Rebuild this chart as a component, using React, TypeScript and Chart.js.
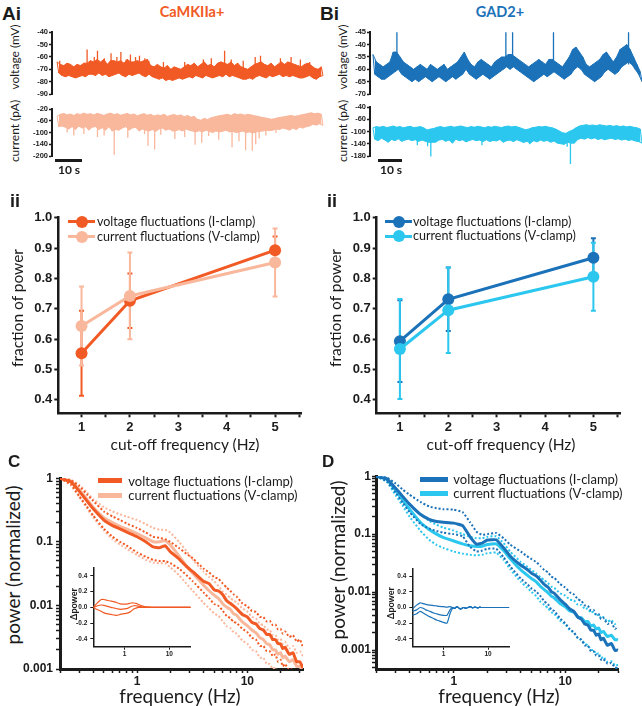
import React, { useEffect, useRef } from "react";
import { Chart, registerables } from "chart.js";

Chart.register(...registerables);

// ---------- colours & fonts ----------
const INK = "#1b1b1b";
const ORANGE = "#F15A24";
const ORANGE_LIGHT = "#F9B79C";
const BLUE = "#1B72B9";
const CYAN = "#2CC7EE";
const TICK_FONT = "'Liberation Sans', Arial, sans-serif";
const TEXT_FONT = "Lato, 'Open Sans', sans-serif";

// ---------- panel A/B i : example traces (band envelopes, 80 samples over 100 s, plus spikes) ----------
const TRACE_SECONDS = 100;
const A_VOLT_UPPER = [
  -64, -66, -67, -65, -66, -68, -66, -67, -65, -65,
  -63, -64, -62, -64, -62, -66, -63, -63, -64, -63,
  -65, -62, -64, -64, -63, -64, -63, -62, -67, -68,
  -66, -68, -69, -67, -70, -68, -69, -70, -68, -66,
  -67, -65, -68, -66, -64, -67, -66, -68, -65, -64,
  -65, -66, -64, -67, -65, -68, -69, -70, -68, -66,
  -65, -64, -66, -67, -65, -68, -66, -64, -66, -64,
  -65, -66, -67, -68, -66, -65, -67, -69, -70, -68,
];
const A_VOLT_LOWER = [
  -73, -75, -76, -75, -76, -77, -76, -75, -76, -74,
  -74, -75, -73, -75, -74, -76, -75, -74, -73, -75,
  -76, -74, -75, -74, -73, -75, -76, -74, -76, -77,
  -78, -77, -79, -78, -79, -78, -77, -78, -77, -76,
  -77, -75, -76, -77, -75, -76, -77, -76, -75, -76,
  -74, -76, -75, -76, -77, -78, -78, -77, -78, -76,
  -75, -76, -77, -75, -76, -75, -74, -76, -75, -76,
  -75, -76, -77, -77, -76, -75, -77, -78, -76, -75,
];
const A_VOLT_SPIKE_T = [1, 11.3, 14, 15.2, 17.8, 20.3, 22.5, 24, 26, 27.6, 29.5, 31, 33, 34.5, 40, 48, 55, 58, 63, 65.5, 70, 74.5, 76.5, 84, 88, 91.5, 95];
const A_VOLT_SPIKE_V = [-63, -54, -60, -55, -61, -57, -60, -56, -62, -58, -60, -59, -61, -63, -64, -64, -62, -61, -55, -62, -63, -60, -59, -61, -60, -62, -64];
const A_VOLT_SPIKE_BASE = -70;

const A_CURR_UPPER = [
  -45, -38, -35, -40, -37, -42, -36, -39, -34, -38,
  -36, -40, -35, -38, -42, -37, -34, -39, -36, -41,
  -38, -35, -40, -37, -43, -39, -36, -41, -38, -44,
  -40, -42, -38, -45, -41, -39, -43, -40, -46, -42,
  -48, -45, -55, -58, -52, -56, -50, -47, -44, -42,
  -40, -38, -42, -36, -39, -37, -41, -38, -40, -43,
  -45, -48, -50, -52, -55, -53, -50, -48, -46, -44,
  -42, -45, -43, -40, -38, -35, -33, -36, -34, -38,
];
const A_CURR_LOWER = [
  -80, -78, -82, -88, -80, -90, -78, -85, -80, -92,
  -82, -80, -90, -84, -92, -80, -95, -90, -92, -85,
  -80, -92, -85, -82, -95, -88, -92, -95, -90, -96,
  -88, -85, -92, -88, -95, -94, -90, -95, -88, -92,
  -95, -98, -94, -98, -92, -96, -100, -95, -98, -96,
  -92, -98, -96, -100, -98, -95, -100, -98, -102, -98,
  -96, -95, -92, -94, -92, -88, -90, -85, -88, -92,
  -85, -90, -82, -85, -80, -78, -72, -75, -70, -76,
];
const A_CURR_SPIKE_T = [3.8, 6.3, 10.1, 15.2, 17.7, 21.5, 26.6, 32.9, 34.2, 36.7, 39, 44.3, 48, 51.9, 54.4, 57, 60.8, 65.8, 68.4, 70.9, 73.4, 74.7, 76, 78.5, 82.3];
const A_CURR_SPIKE_V = [-100, -110, -105, -115, -110, -176, -118, -105, -145, -158, -108, -122, -115, -142, -135, -112, -125, -150, -130, -160, -162, -140, -120, -110, -102];
const A_CURR_SPIKE_BASE = -70;

const B_VOLT_UPPER = [
  -54, -57, -58, -59, -58, -57, -53, -53, -55, -57,
  -58, -59, -60, -59, -58, -59, -60, -58, -59, -60,
  -59, -58, -60, -59, -58, -57, -55, -53, -56, -58,
  -59, -57, -56, -57, -58, -59, -57, -56, -55, -55,
  -54, -54, -55, -56, -57, -58, -59, -58, -57, -56,
  -57, -58, -56, -56, -57, -58, -59, -57, -55, -52,
  -51, -53, -55, -58, -59, -58, -57, -56, -54, -53,
  -55, -57, -55, -52, -51, -50, -52, -55, -58, -61,
];
const B_VOLT_LOWER = [
  -62, -63, -64, -64, -63, -62, -61, -60, -62, -63,
  -64, -65, -64, -65, -64, -63, -64, -65, -64, -63,
  -64, -65, -64, -63, -64, -63, -62, -60, -62, -63,
  -64, -63, -62, -63, -64, -63, -62, -61, -60, -59,
  -60, -59, -60, -61, -62, -63, -64, -65, -64, -63,
  -62, -63, -62, -61, -62, -63, -64, -63, -62, -60,
  -59, -60, -62, -63, -64, -65, -64, -63, -61, -60,
  -61, -62, -61, -59, -58, -57, -58, -60, -62, -65,
];
const B_VOLT_SPIKE_T = [8.9, 49.4, 51.9, 67.1, 95];
const B_VOLT_SPIKE_V = [-45, -45, -45, -45, -45];
const B_VOLT_SPIKE_BASE = -58;

const B_CURR_UPPER = [
  -88, -84, -86, -83, -87, -85, -82, -86, -84, -88,
  -85, -83, -87, -86, -84, -88, -95, -92, -90, -86,
  -84, -87, -85, -83, -86, -84, -82, -85, -87, -84,
  -86, -83, -85, -88, -84, -86, -83, -85, -87, -84,
  -82, -85, -83, -86, -90, -94, -92, -88, -86, -84,
  -85, -83, -86, -88, -92, -98, -104, -106, -100, -95,
  -88, -82, -80, -78, -80, -79, -81, -78, -80, -82,
  -80, -83, -81, -84, -82, -85, -83, -86, -88, -92,
];
const B_CURR_LOWER = [
  -125, -130, -122, -128, -135, -126, -130, -124, -132, -128,
  -125, -130, -127, -132, -128, -132, -135, -135, -135, -128,
  -126, -132, -128, -138, -125, -130, -127, -134, -129, -126,
  -130, -128, -133, -127, -133, -129, -131, -126, -135, -130,
  -128, -133, -127, -131, -136, -132, -138, -130, -134, -128,
  -132, -129, -135, -131, -138, -140, -142, -135, -138, -138,
  -126, -122, -125, -120, -124, -121, -126, -123, -127, -124,
  -122, -126, -124, -128, -125, -129, -127, -131, -133, -138,
];
const B_CURR_SPIKE_T = [16.5, 20.3, 21.5, 40.5, 58.2, 72.2, 73.4];
const B_CURR_SPIKE_V = [-145, -148, -182, -145, -142, -150, -210];
const B_CURR_SPIKE_BASE = -110;

// trace axes tick values & printed labels
const A_VOLT_TICKS = [-40, -50, -60, -70, -80, -90];
const A_VOLT_LABELS = ["-40", "-50", "-60", "-70", "-80", "-90"];
const A_CURR_TICKS = [-20, -60, -100, -140, -180];
const A_CURR_LABELS = ["-20", "-60", "-100", "-140", "-200"];
const B_VOLT_TICKS = [-45, -50, -55, -60, -65, -70];
const B_VOLT_LABELS = ["-45", "-40", "-55", "-60", "-65", "-70"];
const B_CURR_TICKS = [-20, -60, -100, -140, -180];
const B_CURR_LABELS = ["-40", "-60", "-100", "-140", "-180"];

// ---------- panel ii : fraction of power ----------
const CUTOFF_HZ = [1, 2, 5];
const A_VOLT_FRAC = [0.553, 0.726, 0.893];
const A_VOLT_ERR = [0.14, 0.09, 0.045];
const A_CURR_FRAC = [0.643, 0.742, 0.852];
const A_CURR_ERR = [0.13, 0.143, 0.112];
const B_VOLT_FRAC = [0.593, 0.731, 0.868];
const B_VOLT_ERR = [0.135, 0.105, 0.064];
const B_CURR_FRAC = [0.567, 0.695, 0.805];
const B_CURR_ERR = [0.165, 0.141, 0.112];
const II_X_TICKS = [1, 1.5, 2, 2.5, 3, 3.5, 4, 4.5, 5, 5.5];
const II_X_LABELS = ["1", "", "2", "", "3", "", "4", "", "5", ""];
const II_Y_TICKS = [0.4, 0.5, 0.6, 0.7, 0.8, 0.9, 1.0];
const II_Y_LABELS = ["0.4", "0.5", "0.6", "0.7", "0.8", "0.9", "1.0"];

// ---------- panels C / D : normalized power spectra ----------
const FREQ_HZ = [
  0.2, 0.25, 0.3, 0.35, 0.4, 0.5, 0.6, 0.7, 0.8, 1.0, 1.2, 1.4, 1.6, 1.8, 2.0, 2.4, 2.8, 3.2,
  4, 4.5, 5, 5.5, 6, 6.5, 7, 7.5, 8, 9, 10, 11, 12, 13, 14, 15, 16, 17, 18, 19, 20, 21, 22, 24, 26, 28, 30, 32,
];
const C_VOLT_MEAN = [
  1, 0.88, 0.62, 0.44, 0.33, 0.22, 0.18, 0.16, 0.143, 0.12, 0.1, 0.083, 0.081, 0.087, 0.07, 0.054, 0.041, 0.034,
  0.024, 0.022, 0.0176, 0.0168, 0.0147, 0.0118, 0.0108, 0.0098, 0.0089, 0.0072, 0.0066, 0.0054, 0.0051, 0.0043,
  0.0041, 0.0035, 0.0035, 0.0029, 0.0029, 0.0025, 0.0025, 0.0021, 0.0022, 0.0017, 0.0018, 0.0013, 0.0013, 0.00104,
];
const C_VOLT_UP = [
  1, 0.93, 0.75, 0.56, 0.44, 0.3, 0.25, 0.22, 0.195, 0.165, 0.14, 0.12, 0.115, 0.11, 0.1, 0.08, 0.065, 0.055,
  0.038, 0.033, 0.028, 0.026, 0.022, 0.019, 0.017, 0.015, 0.0138, 0.0108, 0.0097, 0.0082, 0.0079, 0.0066,
  0.0065, 0.0056, 0.0057, 0.0049, 0.005, 0.0042, 0.0043, 0.0036, 0.0039, 0.0032, 0.0034, 0.0027, 0.0029, 0.0022,
];
const C_VOLT_LOW = [
  1, 0.8, 0.52, 0.36, 0.26, 0.16, 0.12, 0.1, 0.088, 0.068, 0.058, 0.052, 0.05, 0.05, 0.046, 0.038, 0.03, 0.024,
  0.016, 0.013, 0.0105, 0.0098, 0.0082, 0.0068, 0.0063, 0.0055, 0.0053, 0.0043, 0.0038, 0.0031, 0.0029, 0.0023,
  0.0023, 0.0019, 0.0019, 0.0016, 0.0017, 0.0013, 0.0014, 0.0011, 0.0012, 0.00095, 0.001, 0.0008, 0.00082, 0.0007,
];
const C_CURR_MEAN = [
  1, 0.9, 0.66, 0.47, 0.35, 0.24, 0.2, 0.175, 0.16, 0.135, 0.115, 0.1, 0.1, 0.105, 0.09, 0.06, 0.042, 0.032,
  0.021, 0.017, 0.0145, 0.0128, 0.0105, 0.0094, 0.0087, 0.0074, 0.007, 0.0055, 0.0048, 0.0041, 0.0037, 0.0031,
  0.0029, 0.0025, 0.0024, 0.002, 0.002, 0.0017, 0.0018, 0.0015, 0.0016, 0.0013, 0.0014, 0.0011, 0.0011, 0.0009,
];
const C_CURR_UP = [
  1, 0.95, 0.78, 0.6, 0.47, 0.35, 0.3, 0.27, 0.25, 0.22, 0.19, 0.165, 0.155, 0.155, 0.14, 0.1, 0.072, 0.052,
  0.034, 0.028, 0.024, 0.02, 0.0165, 0.0148, 0.0132, 0.0118, 0.0112, 0.009, 0.008, 0.0066, 0.0062, 0.0051,
  0.0049, 0.0042, 0.0041, 0.0034, 0.0034, 0.0029, 0.003, 0.0025, 0.0027, 0.0021, 0.0023, 0.0018, 0.0019, 0.0016,
];
const C_CURR_LOW = [
  1, 0.78, 0.5, 0.34, 0.24, 0.15, 0.11, 0.09, 0.078, 0.062, 0.052, 0.047, 0.046, 0.046, 0.04, 0.03, 0.022, 0.017,
  0.011, 0.009, 0.0075, 0.0068, 0.0056, 0.0047, 0.0044, 0.0038, 0.0036, 0.0028, 0.0025, 0.002, 0.0019, 0.0015,
  0.0015, 0.0012, 0.0012, 0.001, 0.00105, 0.00088, 0.0009, 0.00075, 0.0008, 0.00066, 0.0007, 0.00058, 0.0006, 0.0005,
];
const D_VOLT_MEAN = [
  1, 0.9, 0.62, 0.44, 0.33, 0.22, 0.18, 0.165, 0.16, 0.155, 0.14, 0.09, 0.067, 0.07, 0.079, 0.08, 0.058, 0.042,
  0.029, 0.025, 0.021, 0.019, 0.016, 0.0135, 0.0122, 0.0102, 0.0095, 0.0074, 0.0062, 0.0051, 0.0046, 0.0037,
  0.0034, 0.0028, 0.0027, 0.0022, 0.0022, 0.0018, 0.0019, 0.0015, 0.0016, 0.0012, 0.0013, 0.00098, 0.001, 0.0008,
];
const D_VOLT_UP = [
  1, 0.95, 0.75, 0.58, 0.48, 0.36, 0.3, 0.28, 0.27, 0.265, 0.24, 0.16, 0.11, 0.097, 0.1, 0.105, 0.085, 0.066,
  0.05, 0.042, 0.037, 0.033, 0.028, 0.024, 0.022, 0.0185, 0.0175, 0.0138, 0.012, 0.0099, 0.0091, 0.0075,
  0.007, 0.0059, 0.0058, 0.0048, 0.0049, 0.0041, 0.0042, 0.0034, 0.0036, 0.0028, 0.003, 0.0023, 0.0025, 0.002,
];
const D_VOLT_LOW = [
  1, 0.82, 0.52, 0.34, 0.24, 0.15, 0.125, 0.113, 0.106, 0.1, 0.092, 0.06, 0.05, 0.052, 0.056, 0.056, 0.04, 0.028,
  0.017, 0.014, 0.0115, 0.0102, 0.0085, 0.0069, 0.0062, 0.005, 0.0047, 0.0035, 0.0029, 0.0023, 0.002, 0.0016,
  0.0015, 0.0012, 0.0012, 0.00095, 0.00095, 0.0008, 0.0008, 0.00068, 0.0007, 0.00058, 0.0006, 0.0005, 0.00048, 0.00042,
];
const D_CURR_MEAN = [
  1, 0.88, 0.57, 0.38, 0.27, 0.16, 0.12, 0.1, 0.088, 0.076, 0.068, 0.063, 0.061, 0.062, 0.066, 0.068, 0.052, 0.038,
  0.024, 0.02, 0.017, 0.015, 0.0125, 0.011, 0.0098, 0.0085, 0.0079, 0.0063, 0.0056, 0.0047, 0.0045, 0.0037,
  0.0036, 0.0031, 0.0031, 0.0026, 0.0027, 0.0023, 0.0024, 0.002, 0.0021, 0.0017, 0.0018, 0.0015, 0.0015, 0.0013,
];
const D_CURR_UP = [
  1, 0.92, 0.62, 0.44, 0.33, 0.22, 0.17, 0.145, 0.13, 0.115, 0.1, 0.09, 0.085, 0.085, 0.09, 0.092, 0.07, 0.05,
  0.033, 0.028, 0.024, 0.021, 0.018, 0.016, 0.0143, 0.0125, 0.0118, 0.0095, 0.0087, 0.0074, 0.0072, 0.006,
  0.006, 0.0051, 0.0052, 0.0044, 0.0046, 0.0039, 0.0041, 0.0035, 0.0037, 0.0031, 0.0033, 0.0028, 0.003, 0.0028,
];
const D_CURR_LOW = [
  1, 0.8, 0.47, 0.3, 0.2, 0.115, 0.08, 0.065, 0.058, 0.05, 0.046, 0.044, 0.043, 0.044, 0.047, 0.048, 0.036, 0.025,
  0.015, 0.0122, 0.01, 0.0085, 0.0068, 0.006, 0.0053, 0.0045, 0.0042, 0.0032, 0.0028, 0.0022, 0.002, 0.0016,
  0.0015, 0.0013, 0.0012, 0.001, 0.001, 0.00085, 0.00088, 0.00072, 0.00076, 0.00062, 0.00064, 0.00054, 0.00055, 0.0005,
];
// insets: difference in power (same frequencies)
const C_DIFF_UP = [
  0, 0.06, 0.1, 0.1, 0.09, 0.08, 0.07, 0.055, 0.045, 0.04, 0.045, 0.055, 0.055, 0.05, 0.04, 0.02, 0.01, 0.005,
  0, 0, 0, 0, 0, 0, 0, 0, 0, 0, 0, 0, 0, 0, 0, 0, 0, 0, 0, 0, 0, 0, 0, 0, 0, 0, 0, 0,
];
const C_DIFF_MEAN = [
  0, 0.02, 0.03, 0.025, 0.015, 0, -0.01, -0.02, -0.025, -0.02, -0.01, 0.01, 0.02, 0.02, 0.015, 0.005, 0, 0,
  0, 0, 0, 0, 0, 0, 0, 0, 0, 0, 0, 0, 0, 0, 0, 0, 0, 0, 0, 0, 0, 0, 0, 0, 0, 0, 0, 0,
];
const C_DIFF_LOW = [
  0, -0.03, -0.05, -0.07, -0.08, -0.09, -0.1, -0.1, -0.09, -0.08, -0.07, -0.05, -0.02, -0.01, 0, 0, 0, 0,
  0, 0, 0, 0, 0, 0, 0, 0, 0, 0, 0, 0, 0, 0, 0, 0, 0, 0, 0, 0, 0, 0, 0, 0, 0, 0, 0, 0,
];
const D_DIFF_UP = [
  -0.02, 0.03, 0.06, 0.05, 0.04, 0.03, 0.025, 0.02, 0.015, 0.01, 0.005, 0.01, 0, -0.01, 0.01, -0.02, 0, -0.01,
  0.01, -0.005, 0.005, 0, -0.005, 0.005, 0, 0, 0, 0, 0, 0, 0, 0, 0, 0, 0, 0, 0, 0, 0, 0, 0, 0, 0, 0, 0, 0,
];
const D_DIFF_MEAN = [
  -0.05, -0.03, 0, -0.01, -0.03, -0.05, -0.07, -0.08, -0.09, -0.1, -0.1, -0.03, 0, -0.01, 0.01, -0.02, 0, -0.01,
  0.01, -0.005, 0.005, 0, -0.005, 0.005, 0, 0, 0, 0, 0, 0, 0, 0, 0, 0, 0, 0, 0, 0, 0, 0, 0, 0, 0, 0, 0, 0,
];
const D_DIFF_LOW = [
  -0.1, -0.08, -0.05, -0.07, -0.09, -0.12, -0.14, -0.16, -0.17, -0.19, -0.2, -0.08, -0.01, -0.01, 0.01, -0.02, 0, -0.01,
  0.01, -0.005, 0.005, 0, -0.005, 0.005, 0, 0, 0, 0, 0, 0, 0, 0, 0, 0, 0, 0, 0, 0, 0, 0, 0, 0, 0, 0, 0, 0,
];
const LOG_X_MAJOR = [1, 10];
const LOG_X_MAJOR_LABELS = ["1", "10"];
const LOG_X_MINOR = [0.2, 0.3, 0.4, 0.5, 0.6, 0.7, 0.8, 0.9, 2, 3, 4, 5, 6, 7, 8, 9, 20, 30];
const LOG_Y_MAJOR = [0.001, 0.01, 0.1, 1];
const LOG_Y_MAJOR_LABELS = ["0.001", "0.01", "0.1", "1"];
const LOG_Y_MINOR = [0.0005, 0.0006, 0.0007, 0.0008, 0.0009, 0.002, 0.003, 0.004, 0.005, 0.006, 0.007, 0.008, 0.009, 0.02, 0.03, 0.04, 0.05, 0.06, 0.07, 0.08, 0.09, 0.2, 0.3, 0.4, 0.5, 0.6, 0.7, 0.8, 0.9];
const DIFF_TICKS = [-0.4, -0.2, 0, 0.2, 0.4];
const DIFF_LABELS = ["-0.4", "-0.2", "0.0", "0.2", "0.4"];

const LEGEND_V = "voltage fluctuations (I-clamp)";
const LEGEND_C = "current fluctuations (V-clamp)";

// ---------- helpers ----------
function axisBase(fs: number, bw: number, tl: number, tw: number, pad: number) {
  return {
    border: { display: true, color: INK, width: bw },
    grid: { display: true, drawOnChartArea: false, drawTicks: true, tickLength: tl, tickWidth: tw, color: INK, tickColor: INK },
    ticks: { color: INK, font: { family: TICK_FONT, size: fs, weight: "bold" }, padding: pad, autoSkip: false, maxRotation: 0, minRotation: 0 },
  };
}

function fixedTicks(values: number[], labels: string[]) {
  return {
    afterBuildTicks: (s: any) => {
      s.ticks = values.filter((v) => v >= s.min - 1e-9 && v <= s.max + 1e-9).map((v) => ({ value: v }));
    },
    callback: (v: number) => {
      const k = values.findIndex((t) => Math.abs(t - v) < 1e-12);
      return k >= 0 ? labels[k] : "";
    },
  };
}

function logTicks(major: number[], majorLabels: string[], minor: number[]) {
  const all = [...major, ...minor].sort((a, b) => a - b);
  const labels = all.map((v) => {
    const k = major.indexOf(v);
    return k >= 0 ? majorLabels[k] : "";
  });
  return fixedTicks(all, labels);
}

function makeAxis(base: any, t: any, extra: any) {
  return {
    ...extra,
    border: base.border,
    grid: base.grid,
    afterBuildTicks: t.afterBuildTicks,
    ticks: { ...base.ticks, callback: t.callback },
  };
}

function traceConfig(
  upper: number[], lower: number[], spikeT: number[], spikeV: number[], spikeBase: number,
  color: string, yMin: number, yMax: number, ticks: number[], labels: string[], pad: any, xMin: number,
) {
  const step = TRACE_SECONDS / (upper.length - 0.5);
  const up = upper.map((u, i) => ({ x: i * step, y: u }));
  const low = lower.map((l, i) => ({ x: i * step + step / 2, y: l }));
  const zig: { x: number; y: number }[] = [];
  upper.forEach((u, i) => {
    zig.push(up[i]);
    zig.push(low[i]);
  });
  const spikes: { x: number; y: number | null }[] = [];
  spikeT.forEach((t, i) => {
    spikes.push({ x: t, y: spikeBase });
    spikes.push({ x: t, y: spikeV[i] });
    spikes.push({ x: t, y: null });
  });
  const t = fixedTicks(ticks, labels);
  const lineDs = (data: any[], fill: any, width: number) => ({
    data,
    borderColor: color,
    backgroundColor: color,
    borderWidth: width,
    pointRadius: 0,
    tension: 0,
    clip: false,
    fill,
    spanGaps: false,
  });
  return {
    type: "line",
    data: { datasets: [lineDs(up, false, 1), lineDs(low, "-1", 1), lineDs(zig, false, 1), lineDs(spikes, false, 1.3)] },
    options: {
      animation: false,
      responsive: false,
      maintainAspectRatio: false,
      layout: { padding: pad },
      plugins: { legend: { display: false }, tooltip: { enabled: false } },
      scales: {
        x: { type: "linear", display: false, min: xMin, max: TRACE_SECONDS },
        y: makeAxis(axisBase(7.5, 2, 3, 1.5, 1), t, {
          type: "linear",
          min: yMin,
          max: yMax,
          afterFit: (s: any) => { s.width = 52; },
        }),
      },
    },
  };
}

const errorBarPlugin = {
  id: "errorBars",
  beforeDatasetsDraw(chart: any) {
    const ctx = chart.ctx;
    const xs = chart.scales.x;
    const ys = chart.scales.y;
    const metas = chart.getSortedVisibleDatasetMetas().slice().reverse();
    metas.forEach((meta: any) => {
      const ds = chart.data.datasets[meta.index];
      if (!ds.errors) return;
      ctx.save();
      ctx.strokeStyle = ds.borderColor;
      ctx.lineWidth = 2;
      ds.data.forEach((p: any, i: number) => {
        const x = xs.getPixelForValue(p.x);
        const y1 = ys.getPixelForValue(p.y + ds.errors[i]);
        const y2 = ys.getPixelForValue(p.y - ds.errors[i]);
        ctx.beginPath();
        ctx.moveTo(x, y1);
        ctx.lineTo(x, y2);
        ctx.moveTo(x - 2.5, y1);
        ctx.lineTo(x + 2.5, y1);
        ctx.moveTo(x - 2.5, y2);
        ctx.lineTo(x + 2.5, y2);
        ctx.stroke();
      });
      ctx.restore();
    });
  },
};

function fracConfig(vFrac: number[], vErr: number[], cFrac: number[], cErr: number[], dark: string, light: string, yW: number, padRight: number) {
  const tx = fixedTicks(II_X_TICKS, II_X_LABELS);
  const ty = fixedTicks(II_Y_TICKS, II_Y_LABELS);
  const ds = (vals: number[], errs: number[], color: string, order: number) => ({
    data: CUTOFF_HZ.map((x, i) => ({ x, y: vals[i] })),
    errors: errs,
    borderColor: color,
    backgroundColor: color,
    borderWidth: 3,
    pointRadius: 6,
    pointBorderWidth: 0,
    pointBackgroundColor: color,
    tension: 0,
    order,
  });
  return {
    type: "line",
    data: { datasets: [ds(vFrac, vErr, dark, 2), ds(cFrac, cErr, light, 1)] },
    options: {
      animation: false,
      responsive: false,
      maintainAspectRatio: false,
      layout: { padding: { left: 0, top: 17.7, right: padRight, bottom: 0 } },
      plugins: { legend: { display: false }, tooltip: { enabled: false } },
      scales: {
        x: makeAxis(axisBase(13, 2.5, 4, 2, 2), tx, { type: "linear", min: 0.52, max: 5.55, afterFit: (s: any) => { s.height = 26.7; } }),
        y: makeAxis(axisBase(13, 2.5, 4, 2, 2), ty, { type: "linear", min: 0.355, max: 1.0, afterFit: (s: any) => { s.width = yW; } }),
      },
    },
    plugins: [errorBarPlugin],
  };
}

function spectrumConfig(series: { data: number[]; color: string; dashed: boolean; order: number }[], yMin: number, xMax: number, yW: number, pad: any, yPad: number) {
  const tx = logTicks(LOG_X_MAJOR, LOG_X_MAJOR_LABELS, LOG_X_MINOR);
  const ty = logTicks(LOG_Y_MAJOR, LOG_Y_MAJOR_LABELS, LOG_Y_MINOR);
  return {
    type: "line",
    data: {
      datasets: series.map((s) => ({
        data: FREQ_HZ.map((f, i) => ({ x: f, y: s.data[i] })),
        borderColor: s.color,
        borderWidth: s.dashed ? 2 : 3,
        borderDash: s.dashed ? [2, 2] : [],
        pointRadius: 0,
        tension: 0.1,
        order: s.order,
      })),
    },
    options: {
      animation: false,
      responsive: false,
      maintainAspectRatio: false,
      layout: { padding: pad },
      plugins: { legend: { display: false }, tooltip: { enabled: false } },
      scales: {
        x: makeAxis(axisBase(12, 3, 4, 1.5, 1), tx, { type: "logarithmic", min: 0.2, max: xMax, afterFit: (s: any) => { s.height = 37; } }),
        y: makeAxis(axisBase(12, 3, 4, 1.5, yPad), ty, { type: "logarithmic", min: yMin, max: 1, afterFit: (s: any) => { s.width = yW; } }),
      },
    },
  };
}

function insetConfig(up: number[], mean: number[], low: number[], color: string, yW: number, padRight: number, padTop: number) {
  const tx = fixedTicks(LOG_X_MAJOR, LOG_X_MAJOR_LABELS);
  const ty = fixedTicks(DIFF_TICKS, DIFF_LABELS);
  const line = (d: number[]) => ({
    data: FREQ_HZ.map((f, i) => ({ x: f, y: d[i] })),
    borderColor: color,
    borderWidth: 1.2,
    pointRadius: 0,
    tension: 0.2,
  });
  return {
    type: "line",
    data: { datasets: [line(up), line(mean), line(low)] },
    options: {
      animation: false,
      responsive: false,
      maintainAspectRatio: false,
      layout: { padding: { left: 0, top: padTop, right: padRight, bottom: 0 } },
      plugins: { legend: { display: false }, tooltip: { enabled: false } },
      scales: {
        x: makeAxis(axisBase(6.5, 1.5, 3, 1, 1), tx, { type: "logarithmic", min: 0.2, max: 30, afterFit: (s: any) => { s.height = 13.3; } }),
        y: makeAxis(axisBase(6.5, 1.5, 3, 1, 3), ty, { type: "linear", min: -0.5, max: 0.5, afterFit: (s: any) => { s.width = yW; } }),
      },
    },
  };
}

// ---------- components ----------
function ChartBox({ left, top, width, height, make }: { left: number; top: number; width: number; height: number; make: () => any }) {
  const ref = useRef<HTMLCanvasElement | null>(null);
  useEffect(() => {
    if (!ref.current) return;
    const chart = new Chart(ref.current, make());
    return () => chart.destroy();
  }, []);
  return (
    <div style={{ position: "absolute", left, top, width, height }}>
      <canvas ref={ref} width={width} height={height} style={{ width, height, display: "block" }} />
    </div>
  );
}

function Label({ x, y, text, size, bold = false, color = INK, family = TEXT_FONT, align = "left", rotate = false }: any) {
  const tx = align === "center" || rotate ? "-50%" : "0";
  return (
    <div
      style={{
        position: "absolute",
        left: x,
        top: y,
        transform: `translate(${tx}, -50%)${rotate ? " rotate(-90deg)" : ""}`,
        fontFamily: family,
        fontSize: size,
        fontWeight: bold ? 700 : 400,
        color,
        whiteSpace: "nowrap",
        lineHeight: 1,
      }}
    >
      {text}
    </div>
  );
}

function Box({ x, y, w, h, color, round = false }: any) {
  return <div style={{ position: "absolute", left: x, top: y, width: w, height: h, background: color, borderRadius: round ? "50%" : 0 }} />;
}

function FracLegend({ lx, tx, y1, y2, dark, light }: any) {
  return (
    <>
      <Box x={lx} y={y1 - 1.5} w={27} h={3} color={dark} />
      <Box x={lx + 8} y={y1 - 6} w={12} h={12} color={dark} round />
      <Label x={tx} y={y1} text={LEGEND_V} size={12.5} />
      <Box x={lx} y={y2 - 1.5} w={27} h={3} color={light} />
      <Box x={lx + 8} y={y2 - 6} w={12} h={12} color={light} round />
      <Label x={tx} y={y2} text={LEGEND_C} size={12.5} />
    </>
  );
}

function SpecLegend({ lx, w, tx, y1, y2, dark, light }: any) {
  return (
    <>
      <Box x={lx} y={y1 - 2.5} w={w} h={5} color={dark} />
      <Label x={tx} y={y1} text={LEGEND_V} size={13} />
      <Box x={lx} y={y2 - 2.5} w={w} h={5} color={light} />
      <Label x={tx} y={y2} text={LEGEND_C} size={13} />
    </>
  );
}

export default function App() {
  return (
    <div style={{ position: "absolute", left: 0, top: 0, width: 642, height: 706, background: "#fff", overflow: "hidden" }}>
      {/* ---- Ai ---- */}
      <Label x={2} y={12.5} text="Ai" size={19} bold family={TICK_FONT} />
      <Label x={192} y={12} text="CaMKIIa+" size={14.5} bold color={ORANGE} align="center" />
      <Label x={15} y={57} text="voltage (mV)" size={12} rotate />
      <Label x={15} y={131} text="current (pA)" size={12} rotate />
      <ChartBox left={0} top={24} width={330} height={76}
        make={() => traceConfig(A_VOLT_UPPER, A_VOLT_LOWER, A_VOLT_SPIKE_T, A_VOLT_SPIKE_V, A_VOLT_SPIKE_BASE, ORANGE, -90, -40, A_VOLT_TICKS, A_VOLT_LABELS, { left: 0, top: 8.3, right: 7, bottom: 6 }, -1.9)} />
      <ChartBox left={0} top={100} width={330} height={64}
        make={() => traceConfig(A_CURR_UPPER, A_CURR_LOWER, A_CURR_SPIKE_T, A_CURR_SPIKE_V, A_CURR_SPIKE_BASE, ORANGE_LIGHT, -180, -20, A_CURR_TICKS, A_CURR_LABELS, { left: 0, top: 9, right: 7, bottom: 8 }, -1.9)} />
      <Box x={55} y={159} w={27} h={2.5} color={INK} />
      <Label x={69} y={170} text="10 s" size={12} bold align="center" />

      {/* ---- Bi ---- */}
      <Label x={320} y={12.5} text="Bi" size={19} bold family={TICK_FONT} />
      <Label x={500} y={12} text="GAD2+" size={14.5} bold color={BLUE} align="center" />
      <Label x={343} y={57} text="voltage (mV)" size={12} rotate />
      <Label x={343} y={131} text="current (pA)" size={12} rotate />
      <ChartBox left={318} top={24} width={324} height={76}
        make={() => traceConfig(B_VOLT_UPPER, B_VOLT_LOWER, B_VOLT_SPIKE_T, B_VOLT_SPIKE_V, B_VOLT_SPIKE_BASE, BLUE, -70, -45, B_VOLT_TICKS, B_VOLT_LABELS, { left: 0, top: 8.3, right: 0, bottom: 6 }, -1.1)} />
      <ChartBox left={318} top={100} width={324} height={64}
        make={() => traceConfig(B_CURR_UPPER, B_CURR_LOWER, B_CURR_SPIKE_T, B_CURR_SPIKE_V, B_CURR_SPIKE_BASE, CYAN, -180, -20, B_CURR_TICKS, B_CURR_LABELS, { left: 0, top: 7, right: 0, bottom: 8 }, -1.1)} />
      <Box x={378} y={159} w={24} h={2.5} color={INK} />
      <Label x={391} y={170} text="10 s" size={12} bold align="center" />

      {/* ---- ii (A) ---- */}
      <Label x={10} y={201} text="ii" size={18} bold family={TICK_FONT} />
      <Label x={17.5} y={307.5} text="fraction of power" size={15.5} rotate />
      <ChartBox left={0} top={200} width={320} height={240}
        make={() => fracConfig(A_VOLT_FRAC, A_VOLT_ERR, A_CURR_FRAC, A_CURR_ERR, ORANGE, ORANGE_LIGHT, 58.3, 18.3)} />
      <FracLegend lx={68} tx={97} y1={221.7} y2={236.7} dark={ORANGE} light={ORANGE_LIGHT} />
      <Label x={185} y={445} text="cut-off frequency (Hz)" size={15.5} align="center" />

      {/* ---- ii (B) ---- */}
      <Label x={327} y={201} text="ii" size={18} bold family={TICK_FONT} />
      <Label x={336} y={307.5} text="fraction of power" size={15.5} rotate />
      <ChartBox left={320} top={200} width={322} height={240}
        make={() => fracConfig(B_VOLT_FRAC, B_VOLT_ERR, B_CURR_FRAC, B_CURR_ERR, BLUE, CYAN, 56.7, 22)} />
      <FracLegend lx={385} tx={413} y1={221.7} y2={236} dark={BLUE} light={CYAN} />
      <Label x={501} y={445} text="cut-off frequency (Hz)" size={15.5} align="center" />

      {/* ---- C ---- */}
      <Label x={8} y={461} text="C" size={17} bold family={TICK_FONT} />
      <Label x={12} y={565} text="power (normalized)" size={19} rotate />
      <ChartBox left={0} top={468} width={320} height={238}
        make={() => spectrumConfig([
          { data: C_VOLT_UP, color: ORANGE, dashed: true, order: 2 },
          { data: C_VOLT_MEAN, color: ORANGE, dashed: false, order: 1 },
          { data: C_VOLT_LOW, color: ORANGE, dashed: true, order: 2 },
          { data: C_CURR_UP, color: ORANGE_LIGHT, dashed: true, order: 4 },
          { data: C_CURR_MEAN, color: ORANGE_LIGHT, dashed: false, order: 3 },
          { data: C_CURR_LOW, color: ORANGE_LIGHT, dashed: true, order: 4 },
        ], 0.001, 32, 60, { left: 0, top: 8, right: 17, bottom: 0 }, 3)} />
      <ChartBox left={60} top={560} width={140} height={100}
        make={() => insetConfig(C_DIFF_UP, C_DIFF_MEAN, C_DIFF_LOW, ORANGE, 33.3, 9.3, 8)} />
      <Label x={72.5} y={604} text="Δpower" size={9} bold rotate />
      <SpecLegend lx={98} w={24} tx={128.3} y1={480.5} y2={495} dark={ORANGE} light={ORANGE_LIGHT} />
      <Label x={180} y={695} text="frequency (Hz)" size={19} align="center" />

      {/* ---- D ---- */}
      <Label x={322} y={461} text="D" size={17} bold family={TICK_FONT} />
      <Label x={337} y={560} text="power (normalized)" size={19} rotate />
      <ChartBox left={320} top={468} width={322} height={238}
        make={() => spectrumConfig([
          { data: D_VOLT_UP, color: BLUE, dashed: true, order: 2 },
          { data: D_VOLT_MEAN, color: BLUE, dashed: false, order: 1 },
          { data: D_VOLT_LOW, color: BLUE, dashed: true, order: 2 },
          { data: D_CURR_UP, color: CYAN, dashed: true, order: 4 },
          { data: D_CURR_MEAN, color: CYAN, dashed: false, order: 3 },
          { data: D_CURR_LOW, color: CYAN, dashed: true, order: 4 },
        ], 0.00047, 30, 56, { left: 0, top: 5.8, right: 23.7, bottom: 0 }, 1)} />
      <ChartBox left={380} top={560} width={140} height={100}
        make={() => insetConfig(D_DIFF_UP, D_DIFF_MEAN, D_DIFF_LOW, BLUE, 32.3, 10.7, 8.3)} />
      <Label x={390} y={603} text="Δpower" size={9} bold rotate />
      <SpecLegend lx={420} w={28} tx={453.3} y1={479.3} y2={493.3} dark={BLUE} light={CYAN} />
      <Label x={499} y={695} text="frequency (Hz)" size={19} align="center" />
    </div>
  );
}
